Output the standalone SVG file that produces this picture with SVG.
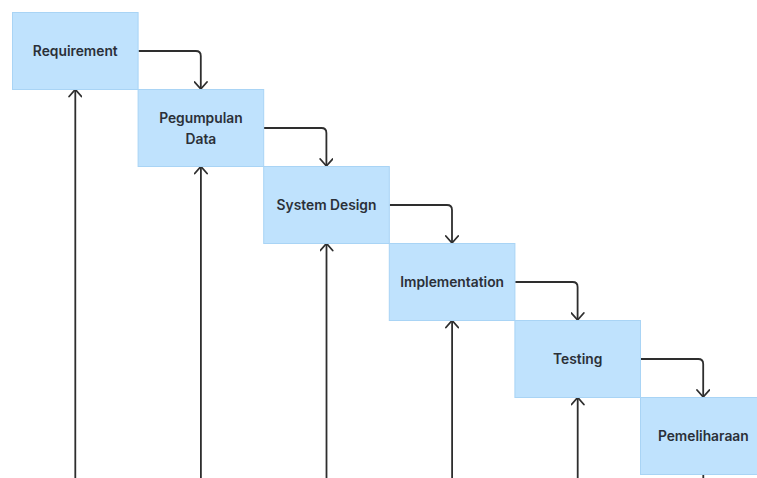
<svg xmlns="http://www.w3.org/2000/svg" width="757" height="478" viewBox="0 0 757 478">
<defs>
<style>
.box{fill:#bfe2fd;stroke:#a9d4f5;stroke-width:1}
.lbl{font-family:Inter,"Liberation Sans",sans-serif;font-weight:600;font-size:13.8px;fill:#2b3038;text-anchor:middle;dominant-baseline:central}
.con{fill:none;stroke:#2e2e2e;stroke-width:1.8;stroke-linejoin:round}
</style>
<marker id="ah" viewBox="0 0 14 14" refX="13" refY="7" markerWidth="14" markerHeight="14" markerUnits="userSpaceOnUse" orient="auto">
<path d="M6,0.8 L13,7 L6,13.2" fill="none" stroke="#2e2e2e" stroke-width="1.8" stroke-linecap="round" stroke-linejoin="round"/>
</marker>
</defs>
<rect width="757" height="478" fill="#ffffff"/>
<g id="connectors">
<path class="con" d="M138.5,51 H195.8 Q200.8,51 200.8,56 V89" marker-end="url(#ah)"/>
<path class="con" d="M264,128 H321.4 Q326.4,128 326.4,133 V166" marker-end="url(#ah)"/>
<path class="con" d="M389.6,205 H447 Q452,205 452,210 V243" marker-end="url(#ah)"/>
<path class="con" d="M515.2,282 H572.6 Q577.6,282 577.6,287 V320" marker-end="url(#ah)"/>
<path class="con" d="M640.8,359 H698.2 Q703.2,359 703.2,364 V397" marker-end="url(#ah)"/>
<path class="con" d="M75.3,478 V89.5" marker-end="url(#ah)"/>
<path class="con" d="M200.9,478 V166.5" marker-end="url(#ah)"/>
<path class="con" d="M326.5,478 V243.5" marker-end="url(#ah)"/>
<path class="con" d="M452.1,478 V320.5" marker-end="url(#ah)"/>
<path class="con" d="M577.7,478 V397.5" marker-end="url(#ah)"/>
<path class="con" d="M703.3,478 V475"/>
</g>
<g id="n1"><rect class="box" x="12.5" y="12.5" width="125.6" height="77"/><text class="lbl" x="75.3" y="51">Requirement</text></g>
<g id="n2"><rect class="box" x="138.1" y="89.5" width="125.6" height="77"/><text class="lbl" x="200.9" y="118">Pegumpulan</text><text class="lbl" x="200.9" y="139">Data</text></g>
<g id="n3"><rect class="box" x="263.7" y="166.5" width="125.6" height="77"/><text class="lbl" x="326.5" y="205">System Design</text></g>
<g id="n4"><rect class="box" x="389.3" y="243.5" width="125.6" height="77"/><text class="lbl" x="452.1" y="282">Implementation</text></g>
<g id="n5"><rect class="box" x="514.9" y="320.5" width="125.6" height="77"/><text class="lbl" x="577.7" y="359">Testing</text></g>
<g id="n6"><rect class="box" x="640.5" y="397.5" width="125.6" height="77"/><text class="lbl" x="703.3" y="436">Pemeliharaan</text></g>
</svg>
